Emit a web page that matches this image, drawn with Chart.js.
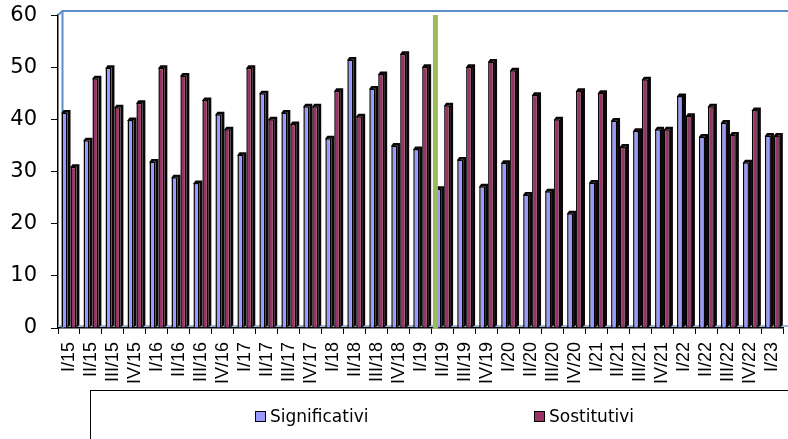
<!DOCTYPE html>
<html>
<head>
<meta charset="utf-8">
<script src="https://cdn.jsdelivr.net/npm/chart.js@4/dist/chart.umd.min.js"></script>
<style>
  html, body { margin: 0; padding: 0; background: #fff; overflow: hidden; }
  #wrap { position: relative; width: 802px; height: 439px; }
  #legend { position: absolute; left: 90px; top: 390px; width: 760px; height: 80px;
            border: 1px solid #000; box-sizing: border-box; }
  .item { position: absolute; top: 15px; font-family: "DejaVu Sans", sans-serif; font-size: 17px;
          color: #000; line-height: 20px; white-space: nowrap; }
  .sw { display: inline-block; width: 9px; height: 9px; border: 1.5px solid #000;
        vertical-align: 0px; margin-right: 4px; }
</style>
</head>
<body>
<div id="wrap">
  <canvas id="c" width="802" height="439"></canvas>
  <div id="legend">
    <span class="item" style="left:164px"><span class="sw" style="background:#9999FF"></span>Significativi</span>
    <span class="item" style="left:443px"><span class="sw" style="background:#993366"></span>Sostitutivi</span>
  </div>
</div>
<script>
const categories = ["I/15","II/15","III/15","IV/15","I/16","II/16","III/16","IV/16",
  "I/17","II/17","III/17","IV/17","I/18","II/18","III/18","IV/18",
  "I/19","II/19","III/19","IV/19","I/20","II/20","III/20","IV/20",
  "I/21","II/21","III/21","IV/21","I/22","II/22","III/22","IV/22","I/23"];
const significativi = [41.3, 36.0, 49.9, 39.9, 31.9, 28.9, 27.8, 41.0,
  33.2, 45.0, 41.3, 42.5, 36.4, 51.5, 45.9, 35.0,
  34.3, 26.7, 32.3, 27.2, 31.7, 25.6, 26.2, 22.0,
  27.9, 39.8, 37.8, 38.1, 44.5, 36.7, 39.4, 31.8, 36.9];
const sostitutivi = [30.9, 47.9, 42.3, 43.2, 49.9, 48.4, 43.7, 38.1,
  49.9, 40.0, 39.1, 42.5, 45.5, 40.6, 48.7, 52.6,
  50.1, 42.7, 50.1, 51.1, 49.4, 44.7, 40.0, 45.5,
  45.1, 34.8, 47.7, 38.1, 40.7, 42.5, 37.1, 41.8, 36.9];
const yTicks = [0, 10, 20, 30, 40, 50, 60];
const seriesNames = ["Significativi", "Sostitutivi"];
const markerIndex = 16.67; // green marker between I/19 and II/19

const depthPlugin = {
  id: 'depth',
  beforeDatasetsDraw(chart) {
    const ctx = chart.ctx;
    const area = chart.chartArea;
    const y0 = chart.scales.y.getPixelForValue(0);
    ctx.save();
    // back wall outline
    ctx.strokeStyle = '#5F8DC8';
    ctx.lineWidth = 2;
    ctx.beginPath();
    ctx.moveTo(62.5, y0);
    ctx.lineTo(62.5, area.top - 4);
    ctx.lineTo(area.right + 20, area.top - 4);
    ctx.stroke();
    ctx.beginPath();
    ctx.moveTo(area.left, area.top);
    ctx.lineTo(62.5, area.top - 4);
    ctx.stroke();
    // floor edge
    ctx.strokeStyle = '#9DB6D6';
    ctx.lineWidth = 2;
    ctx.beginPath();
    ctx.moveTo(area.left, y0 - 2);
    ctx.lineTo(area.right + 20, y0 - 2);
    ctx.stroke();
    // bar depth
    const d = 2.5;
    ctx.fillStyle = '#0c0608';
    chart.data.datasets.forEach((ds, i) => {
      chart.getDatasetMeta(i).data.forEach(el => {
        const l = el.x - el.width / 2, r = el.x + el.width / 2;
        ctx.beginPath();
        ctx.moveTo(l - 0.5, el.y + 1);
        ctx.lineTo(l + d - 0.5, el.y - d);
        ctx.lineTo(r + d + 0.5, el.y - d);
        ctx.lineTo(r + d + 0.5, el.base - d);
        ctx.lineTo(r, el.base);
        ctx.lineTo(r, el.y);
        ctx.closePath();
        ctx.fill();
      });
    });
    ctx.restore();
  },
  afterDatasetsDraw(chart) {
    const ctx = chart.ctx;
    const x = chart.scales.x.getPixelForValue(markerIndex);
    ctx.save();
    ctx.strokeStyle = '#9BBB59';
    ctx.lineWidth = 5;
    ctx.beginPath();
    ctx.moveTo(x, chart.chartArea.top);
    ctx.lineTo(x, chart.scales.y.getPixelForValue(0) + 1);
    ctx.stroke();
    ctx.restore();
  }
};

new Chart(document.getElementById('c'), {
  type: 'bar',
  data: {
    labels: categories,
    datasets: [
      { label: seriesNames[0], data: significativi, backgroundColor: '#9999FF',
        borderColor: '#000', borderWidth: 1.5, categoryPercentage: 0.81, barPercentage: 0.67 },
      { label: seriesNames[1], data: sostitutivi, backgroundColor: '#993366',
        borderColor: '#000', borderWidth: 1.5, categoryPercentage: 0.81, barPercentage: 0.67 }
    ]
  },
  options: {
    responsive: false,
    animation: false,
    layout: { padding: { top: 0, left: 0, right: 0, bottom: 0 } },
    plugins: { legend: { display: false }, tooltip: { enabled: false } },
    scales: {
      x: {
        grid: { drawOnChartArea: false, drawTicks: true, tickLength: 6, color: '#000', offset: true },
        border: { color: '#000', width: 1.5 },
        ticks: { minRotation: 90, maxRotation: 90, autoSkip: false, padding: 8, color: '#000',
                 font: { family: '"Liberation Sans", Arial, sans-serif', size: 18 } },
        afterFit(s) { s.height = 111; }
      },
      y: {
        min: 0, max: 60,
        afterBuildTicks(s) { s.ticks = yTicks.map(v => ({ value: v })); },
        grid: { drawOnChartArea: false, drawTicks: true, tickLength: 7, color: '#000' },
        border: { color: '#000', width: 1.5 },
        ticks: { padding: 14, color: '#000',
                 font: { family: '"DejaVu Sans", sans-serif', size: 21, lineHeight: 0.1 } },
        afterFit(s) { s.width = 58; }
      }
    }
  },
  plugins: [depthPlugin]
});
</script>
</body>
</html>
